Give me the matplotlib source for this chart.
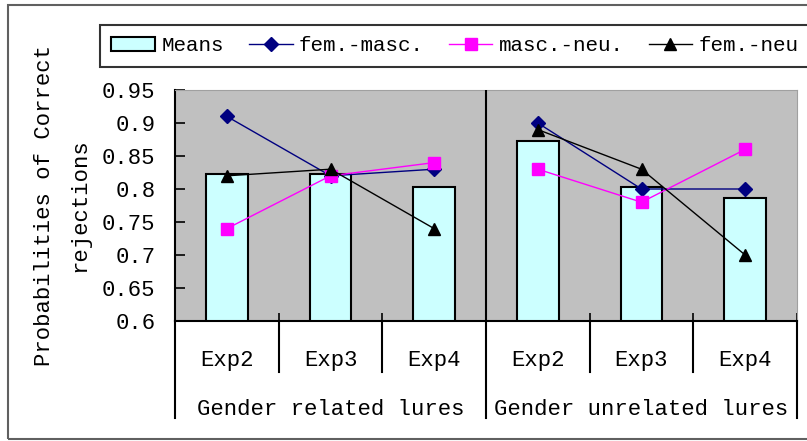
import numpy as np
import matplotlib.pyplot as plt
from matplotlib.patches import Rectangle
from matplotlib.lines import Line2D
import matplotlib.transforms as mtransforms

plt.rcParams['font.family'] = ['Liberation Mono', 'DejaVu Sans Mono']
FS = 16

# data
exps = ['Exp2', 'Exp3', 'Exp4', 'Exp2', 'Exp3', 'Exp4']
groups = ['Gender related lures', 'Gender unrelated lures']
means = [0.822, 0.822, 0.803, 0.873, 0.803, 0.786]
fem_masc = [0.91, 0.82, 0.83, 0.90, 0.80, 0.80]
masc_neu = [0.74, 0.82, 0.84, 0.83, 0.78, 0.86]
fem_neu = [0.82, 0.83, 0.74, 0.89, 0.83, 0.70]
yticks = [0.6, 0.65, 0.7, 0.75, 0.8, 0.85, 0.9, 0.95]
ytick_labels = ['0.6', '0.65', '0.7', '0.75', '0.8', '0.85', '0.9', '0.95']

W, H = 807, 441
fig = plt.figure(figsize=(W / 100, H / 100), dpi=100)
ax = fig.add_axes([175 / W, 1 - 321 / H, 622 / W, 231 / H])
ax.set_facecolor('#c0c0c0')

x = np.arange(len(exps))
bars = ax.bar(x, means, width=0.4, color='#ccffff', edgecolor='black',
              linewidth=1.5, zorder=2)

# lines drawn per group, not joined across the divider
handles = [bars]
for g in range(2):
    s = slice(3 * g, 3 * g + 3)
    l1, = ax.plot(x[s], fem_masc[s], color='#000080', marker='D', markersize=7,
                  lw=1, zorder=3)
    l2, = ax.plot(x[s], masc_neu[s], color='#ff00ff', marker='s', markersize=8,
                  lw=1, zorder=3)
    l3, = ax.plot(x[s], fem_neu[s], color='black', marker='^', markersize=8,
                  lw=1, zorder=3)
    if g == 0:
        handles += [l1, l2, l3]

ax.set_xlim(-0.5, 5.5)
ax.set_ylim(0.6, 0.95)
ax.set_yticks(yticks)
ax.set_yticklabels(ytick_labels, fontsize=FS)
ax.tick_params(axis='y', direction='in', length=7, width=1.2, pad=14)
ax.set_xticks(np.arange(-0.5, 6, 1))
ax.set_xticklabels([])
ax.tick_params(axis='x', direction='in', length=6, width=1.2)

for sp in ['left', 'bottom']:
    ax.spines[sp].set_linewidth(1.5)
for sp in ['top', 'right']:
    ax.spines[sp].set_color('#a0a0a0')

# group divider inside plot
ax.axvline(2.5, color='black', lw=1.5, zorder=4)

# category label grid below the axis
tr = mtransforms.blended_transform_factory(ax.transData, ax.transAxes)
for xb in [0.5, 1.5, 3.5, 4.5]:
    ax.add_line(Line2D([xb, xb], [0, -0.221], transform=tr, color='black',
                       lw=1.5, clip_on=False))
for xb in [-0.5, 2.5, 5.5]:
    ax.add_line(Line2D([xb, xb], [0, -0.42], transform=tr, color='black',
                       lw=1.5, clip_on=False))
for xi, lab in zip(x, exps):
    ax.text(xi, -0.169, lab, transform=tr, ha='center', va='center', fontsize=FS)
for gi, lab in enumerate(groups):
    ax.text(1 + 3 * gi, -0.381, lab, transform=tr, ha='center', va='center',
            fontsize=FS)

# y label in two lines
fig.text(45 / W, 1 - 205 / H, 'Probabilities of Correct', rotation=90,
         ha='center', va='center', fontsize=FS)
fig.text(80 / W, 1 - 205 / H, 'rejections', rotation=90,
         ha='center', va='center', fontsize=FS)

# legend runs off the right edge like the original
leg = fig.legend(handles, ['Means', 'fem.-masc.', 'masc.-neu.', 'fem.-neu'],
                 loc='upper left',
                 bbox_to_anchor=(100 / W, 1 - 25 / H, 710 / W, 0),
                 mode='expand', ncol=4, fontsize=15, frameon=True,
                 fancybox=False, handlelength=2.1, handletextpad=0.3,
                 columnspacing=0.6, borderpad=0.55, borderaxespad=0)
leg.get_frame().set_edgecolor('black')
leg.get_frame().set_linewidth(1.5)

# outer chart frame
fig.patches.append(Rectangle((8 / W, 1 - 439 / H), 1.0, (439 - 5) / H,
                             transform=fig.transFigure, fill=False,
                             edgecolor='#606060', lw=1.5, zorder=0))

fig.savefig('out.png', dpi=100)
